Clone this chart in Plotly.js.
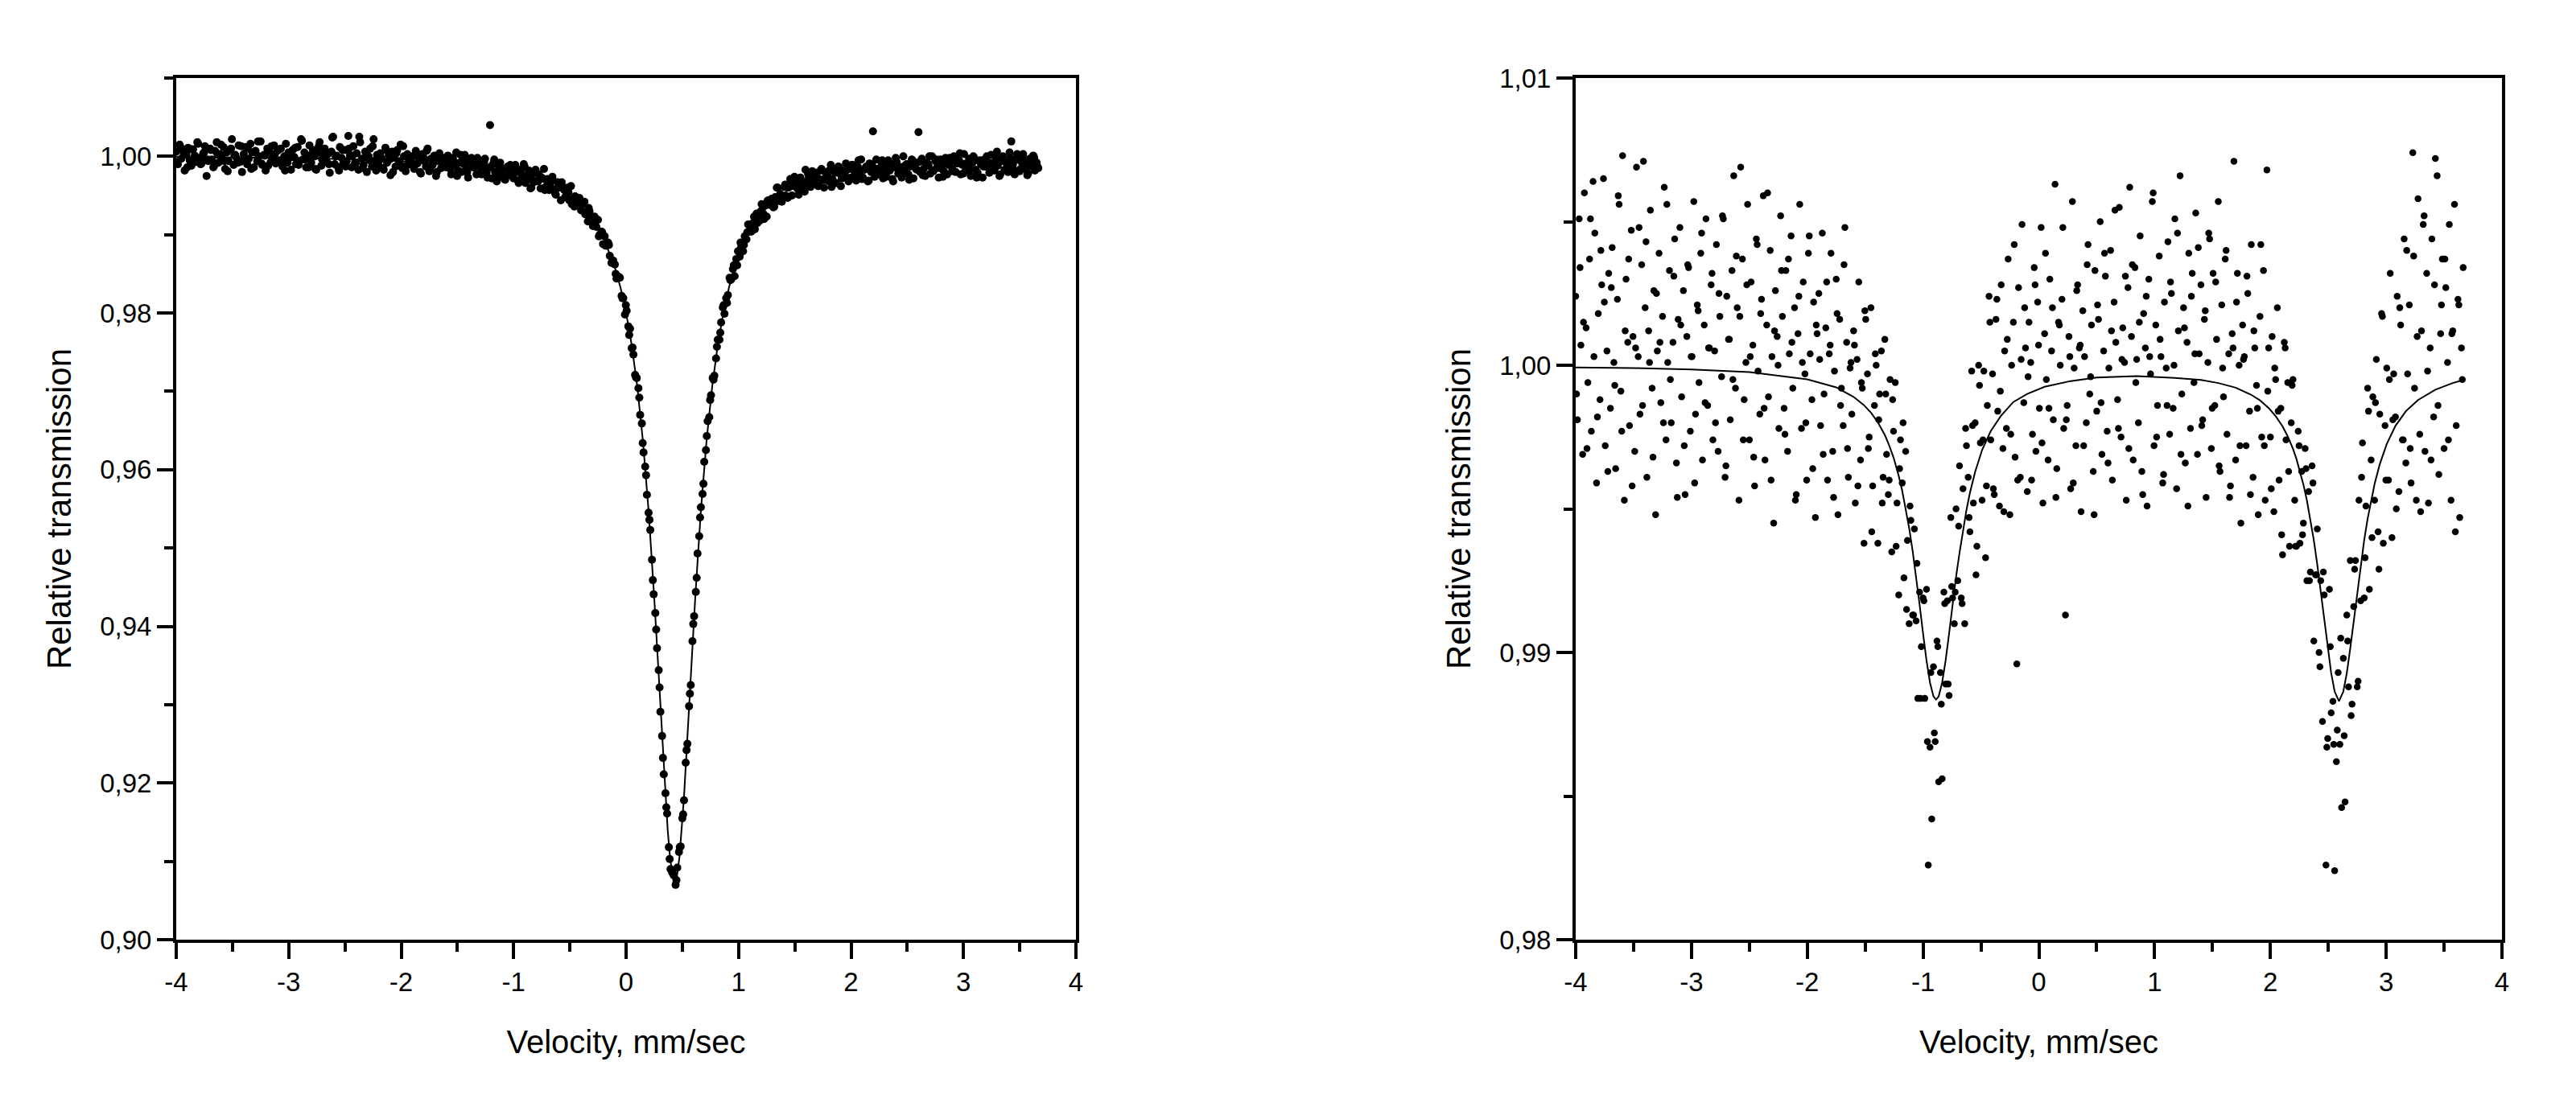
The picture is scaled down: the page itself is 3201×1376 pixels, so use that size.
<!DOCTYPE html>
<html>
<head>
<meta charset="utf-8">
<script src="https://cdn.plot.ly/plotly-3.0.1.min.js"></script>
<style>
html,body{margin:0;padding:0;background:#fff;}
#chart{width:3201px;height:1376px;}
</style>
</head>
<body>
<div id="chart"></div>
<script>
// Velocity channels (mm/sec), shared by both spectra
const velocity = [
-4,-3.985,-3.97,-3.955,-3.94,-3.925,-3.91,-3.895,-3.88,-3.865,-3.85,-3.835,-3.82,-3.805,-3.79,-3.775,-3.76,-3.745,-3.73,-3.715,
-3.7,-3.685,-3.67,-3.655,-3.64,-3.625,-3.61,-3.595,-3.58,-3.565,-3.55,-3.535,-3.52,-3.505,-3.49,-3.475,-3.46,-3.445,-3.43,-3.415,
-3.4,-3.385,-3.37,-3.355,-3.34,-3.325,-3.31,-3.295,-3.28,-3.265,-3.25,-3.235,-3.22,-3.205,-3.19,-3.175,-3.16,-3.145,-3.13,-3.115,
-3.1,-3.085,-3.07,-3.055,-3.04,-3.025,-3.01,-2.995,-2.98,-2.965,-2.95,-2.935,-2.92,-2.905,-2.89,-2.875,-2.86,-2.845,-2.83,-2.815,
-2.8,-2.785,-2.77,-2.755,-2.74,-2.725,-2.71,-2.695,-2.68,-2.665,-2.65,-2.635,-2.62,-2.605,-2.59,-2.575,-2.56,-2.545,-2.53,-2.515,
-2.5,-2.485,-2.47,-2.455,-2.44,-2.425,-2.41,-2.395,-2.38,-2.365,-2.35,-2.335,-2.32,-2.305,-2.29,-2.275,-2.26,-2.245,-2.23,-2.215,
-2.2,-2.185,-2.17,-2.155,-2.14,-2.125,-2.11,-2.095,-2.08,-2.065,-2.05,-2.035,-2.02,-2.005,-1.99,-1.975,-1.96,-1.945,-1.93,-1.915,
-1.9,-1.885,-1.87,-1.855,-1.84,-1.825,-1.81,-1.795,-1.78,-1.765,-1.75,-1.735,-1.72,-1.705,-1.69,-1.675,-1.66,-1.645,-1.63,-1.615,
-1.6,-1.585,-1.57,-1.555,-1.54,-1.525,-1.51,-1.495,-1.48,-1.465,-1.45,-1.435,-1.42,-1.405,-1.39,-1.375,-1.36,-1.345,-1.33,-1.315,
-1.3,-1.285,-1.27,-1.255,-1.24,-1.225,-1.21,-1.195,-1.18,-1.165,-1.15,-1.135,-1.12,-1.105,-1.09,-1.075,-1.06,-1.045,-1.03,-1.015,
-1,-0.985,-0.97,-0.955,-0.94,-0.925,-0.91,-0.895,-0.88,-0.865,-0.85,-0.835,-0.82,-0.805,-0.79,-0.775,-0.76,-0.745,-0.73,-0.715,
-0.7,-0.685,-0.67,-0.655,-0.64,-0.625,-0.61,-0.595,-0.58,-0.565,-0.55,-0.535,-0.52,-0.505,-0.49,-0.475,-0.46,-0.445,-0.43,-0.415,
-0.4,-0.385,-0.37,-0.355,-0.34,-0.325,-0.31,-0.295,-0.28,-0.265,-0.25,-0.235,-0.22,-0.205,-0.19,-0.175,-0.16,-0.145,-0.13,-0.115,
-0.1,-0.085,-0.07,-0.055,-0.04,-0.025,-0.01,0.005,0.02,0.035,0.05,0.065,0.08,0.095,0.11,0.125,0.14,0.155,0.17,0.185,
0.2,0.215,0.23,0.245,0.26,0.275,0.29,0.305,0.32,0.335,0.35,0.365,0.38,0.395,0.41,0.425,0.44,0.455,0.47,0.485,
0.5,0.515,0.53,0.545,0.56,0.575,0.59,0.605,0.62,0.635,0.65,0.665,0.68,0.695,0.71,0.725,0.74,0.755,0.77,0.785,
0.8,0.815,0.83,0.845,0.86,0.875,0.89,0.905,0.92,0.935,0.95,0.965,0.98,0.995,1.01,1.025,1.04,1.055,1.07,1.085,
1.1,1.115,1.13,1.145,1.16,1.175,1.19,1.205,1.22,1.235,1.25,1.265,1.28,1.295,1.31,1.325,1.34,1.355,1.37,1.385,
1.4,1.415,1.43,1.445,1.46,1.475,1.49,1.505,1.52,1.535,1.55,1.565,1.58,1.595,1.61,1.625,1.64,1.655,1.67,1.685,
1.7,1.715,1.73,1.745,1.76,1.775,1.79,1.805,1.82,1.835,1.85,1.865,1.88,1.895,1.91,1.925,1.94,1.955,1.97,1.985,
2,2.015,2.03,2.045,2.06,2.075,2.09,2.105,2.12,2.135,2.15,2.165,2.18,2.195,2.21,2.225,2.24,2.255,2.27,2.285,
2.3,2.315,2.33,2.345,2.36,2.375,2.39,2.405,2.42,2.435,2.45,2.465,2.48,2.495,2.51,2.525,2.54,2.555,2.57,2.585,
2.6,2.615,2.63,2.645,2.66,2.675,2.69,2.705,2.72,2.735,2.75,2.765,2.78,2.795,2.81,2.825,2.84,2.855,2.87,2.885,
2.9,2.915,2.93,2.945,2.96,2.975,2.99,3.005,3.02,3.035,3.05,3.065,3.08,3.095,3.11,3.125,3.14,3.155,3.17,3.185,
3.2,3.215,3.23,3.245,3.26,3.275,3.29,3.305,3.32,3.335,3.35,3.365,3.38,3.395,3.41,3.425,3.44,3.455,3.47,3.485,
3.5,3.515,3.53,3.545,3.56,3.575,3.59,3.605,3.62,3.635,3.65,3.665
];

// Left spectrum: measured relative transmission at the channels above
const leftTransmission = [
1.0006,0.9990,1.0015,0.9997,1.0008,0.9982,1.0002,1.0011,0.9995,0.9988,1.0009,1.0001,0.9993,1.0016,0.9998,0.9991,1.0004,1.0013,0.9975,0.9994,
1.0010,0.9996,0.9986,1.0007,1.0018,0.9992,1.0003,0.9999,1.0012,0.9984,1.0005,0.9994,1.0009,1.0022,0.9989,1.0002,0.9997,1.0014,0.9993,0.9980,
1.0003,1.0012,0.9990,0.9997,1.0016,1.0005,0.9986,1.0007,0.9994,1.0000,1.0019,0.9989,1.0002,0.9982,1.0010,1.0006,0.9993,0.9998,1.0014,0.9991,
1.0007,0.9995,1.0010,0.9987,1.0000,1.0016,0.9992,1.0003,0.9983,1.0008,0.9999,0.9990,1.0012,0.9994,1.0022,0.9996,1.0005,0.9986,1.0001,1.0014,
0.9992,1.0008,1.0000,0.9983,1.0005,1.0018,0.9988,0.9999,1.0010,0.9994,1.0003,0.9979,1.0006,1.0025,0.9990,1.0001,0.9986,1.0012,0.9998,0.9991,
1.0008,0.9994,1.0026,1.0001,0.9986,1.0013,0.9992,1.0004,0.9983,1.0018,0.9997,0.9989,1.0006,0.9980,1.0000,1.0010,0.9987,1.0022,0.9995,1.0002,
0.9989,1.0004,0.9997,0.9983,1.0011,0.9992,1.0002,0.9976,1.0006,0.9999,0.9987,1.0008,0.9994,1.0015,0.9985,1.0000,0.9981,1.0003,0.9996,0.9990,
1.0000,0.9984,1.0007,0.9991,0.9997,0.9978,1.0003,0.9994,0.9987,1.0010,0.9981,0.9997,0.9989,1.0001,0.9975,0.9994,1.0004,0.9985,0.9991,0.9998,
0.9986,1.0001,0.9993,0.9977,0.9998,0.9989,1.0005,0.9982,0.9992,0.9980,0.9996,1.0002,0.9983,0.9973,0.9993,0.9998,0.9986,0.9996,0.9977,0.9989,
0.9991,0.9977,0.9987,0.9997,0.9979,0.9985,1.0040,0.9972,0.9991,0.9980,0.9968,0.9988,0.9992,0.9975,0.9984,0.9970,0.9985,0.9978,0.9989,0.9975,
0.9972,0.9989,0.9980,0.9966,0.9983,0.9974,0.9990,0.9966,0.9975,0.9982,0.9959,0.9977,0.9967,0.9983,0.9969,0.9977,0.9959,0.9972,0.9984,0.9961,
0.9971,0.9957,0.9967,0.9974,0.9958,0.9951,0.9967,0.9960,0.9944,0.9961,0.9957,0.9948,0.9960,0.9944,0.9962,0.9944,0.9936,0.9947,0.9940,0.9947,
0.9931,0.9939,0.9942,0.9927,0.9917,0.9930,0.9923,0.9911,0.9923,0.9910,0.9919,0.9900,0.9904,0.9888,0.9898,0.9886,0.9890,0.9873,0.9864,0.9867,
0.9862,0.9844,0.9846,0.9845,0.9822,0.9819,0.9798,0.9803,0.9783,0.9780,0.9755,0.9747,0.9721,0.9717,0.9704,0.9670,0.9659,0.9622,0.9604,0.9568,
0.9545,0.9523,0.9485,0.9441,0.9417,0.9372,0.9344,0.9291,0.9260,0.9211,0.9187,0.9161,0.9118,0.9090,0.9086,0.9082,0.9070,0.9092,0.9112,0.9119,
0.9155,0.9178,0.9226,0.9250,0.9298,0.9325,0.9381,0.9413,0.9444,0.9493,0.9515,0.9552,0.9569,0.9610,0.9625,0.9662,0.9667,0.9695,0.9717,0.9720,
0.9742,0.9766,0.9766,0.9788,0.9807,0.9799,0.9819,0.9823,0.9845,0.9843,0.9856,0.9847,0.9869,0.9879,0.9872,0.9885,0.9879,0.9898,0.9894,0.9913,
0.9911,0.9904,0.9915,0.9907,0.9927,0.9923,0.9918,0.9939,0.9927,0.9937,0.9923,0.9944,0.9938,0.9946,0.9935,0.9948,0.9960,0.9943,0.9952,0.9942,
0.9949,0.9964,0.9949,0.9960,0.9971,0.9950,0.9962,0.9968,0.9960,0.9951,0.9973,0.9968,0.9961,0.9983,0.9968,0.9974,0.9961,0.9981,0.9968,0.9979,
0.9973,0.9963,0.9982,0.9970,0.9960,0.9979,0.9975,0.9968,0.9989,0.9971,0.9984,0.9966,0.9979,0.9986,0.9962,0.9982,0.9977,0.9991,0.9972,0.9984,
0.9973,0.9989,0.9981,0.9969,0.9987,0.9978,0.9996,0.9973,0.9983,0.9987,0.9968,0.9991,0.9980,1.0032,0.9974,0.9996,0.9984,0.9979,0.9992,0.9972,
0.9987,0.9974,0.9995,0.9982,0.9990,0.9968,0.9986,0.9993,0.9978,0.9985,0.9973,1.0000,0.9980,0.9990,0.9977,0.9987,0.9996,0.9972,0.9990,0.9983,
1.0031,0.9980,0.9997,0.9984,0.9975,0.9992,0.9988,0.9978,1.0000,0.9982,0.9994,0.9986,0.9973,0.9996,0.9990,0.9981,0.9998,0.9977,0.9989,0.9995,
0.9984,1.0000,0.9980,0.9991,0.9995,0.9977,0.9989,1.0003,0.9982,0.9986,0.9997,0.9975,0.9992,0.9998,0.9983,0.9979,0.9994,0.9990,0.9973,0.9996,
0.9995,0.9986,0.9979,1.0002,0.9991,0.9982,0.9998,0.9988,0.9975,0.9994,1.0000,0.9983,0.9992,0.9980,1.0005,1.0019,0.9990,0.9977,0.9996,0.9999,
0.9981,0.9993,1.0003,0.9984,0.9990,0.9978,0.9997,0.9987,1.0001,0.9982,0.9992,0.9985
];

// Right spectrum: measured relative transmission at the channels above
const rightTransmission = [
1.0024,0.9981,1.0051,1.0007,0.9969,1.0060,1.0013,0.9994,1.0037,0.9977,1.0064,1.0046,0.9959,1.0018,0.9988,1.0028,1.0065,0.9972,1.0005,1.0032,
0.9985,1.0041,1.0001,0.9964,1.0023,1.0056,0.9991,1.0073,0.9953,1.0030,1.0008,0.9979,1.0047,1.0010,0.9970,1.0069,1.0003,0.9983,1.0035,1.0071,
1.0020,0.9961,1.0012,1.0054,0.9992,1.0026,0.9948,1.0005,1.0039,0.9987,1.0017,1.0062,0.9974,1.0001,1.0033,0.9980,1.0008,1.0044,0.9966,1.0016,
1.0048,0.9989,1.0026,0.9955,1.0010,1.0034,0.9977,1.0003,1.0057,0.9983,1.0021,0.9994,1.0039,0.9967,1.0014,1.0051,0.9986,1.0006,1.0028,0.9974,
1.0005,1.0042,0.9970,1.0017,0.9996,1.0051,0.9961,1.0024,1.0009,0.9981,1.0033,1.0066,0.9992,1.0020,0.9953,1.0069,1.0037,0.9988,1.0001,1.0056,
0.9974,1.0029,1.0007,0.9958,1.0044,0.9998,0.9983,1.0023,1.0059,0.9967,1.0014,0.9989,1.0040,1.0003,0.9945,1.0026,1.0010,0.9978,1.0052,1.0017,
0.9985,1.0033,0.9970,1.0004,1.0045,0.9992,1.0020,0.9955,1.0011,1.0056,0.9978,1.0029,0.9997,0.9960,1.0039,1.0004,0.9988,1.0022,0.9947,1.0011,
1.0025,0.9979,1.0046,0.9990,1.0013,0.9960,1.0004,1.0039,0.9970,0.9998,1.0030,0.9948,1.0016,0.9992,0.9979,1.0048,1.0008,0.9961,0.9999,0.9983,
1.0012,0.9952,1.0002,1.0029,0.9967,0.9992,0.9938,1.0016,0.9997,0.9975,1.0020,0.9958,0.9986,1.0000,0.9938,0.9990,1.0005,0.9961,1.0009,0.9969,
0.9955,0.9995,0.9935,0.9977,0.9994,0.9952,0.9920,0.9974,0.9959,0.9926,0.9970,0.9939,0.9910,0.9946,0.9913,0.9943,0.9911,0.9884,0.9921,0.9902,
0.9919,0.9884,0.9922,0.9826,0.9867,0.9842,0.9895,0.9869,0.9904,0.9855,0.9893,0.9856,0.9921,0.9889,0.9918,0.9885,0.9947,0.9919,0.9910,0.9950,
0.9925,0.9965,0.9919,0.9957,0.9910,0.9972,0.9961,0.9942,0.9998,0.9952,0.9980,0.9937,1.0000,0.9973,0.9953,0.9998,0.9933,0.9986,1.0024,0.9974,
0.9997,0.9955,1.0016,0.9984,0.9951,1.0028,0.9971,1.0005,0.9978,1.0037,0.9948,1.0000,1.0015,0.9968,0.9896,1.0027,0.9961,1.0049,0.9987,1.0006,
0.9956,1.0015,1.0001,0.9976,1.0034,0.9970,1.0022,0.9985,1.0048,0.9952,1.0011,0.9995,0.9967,1.0030,1.0005,0.9981,1.0063,0.9964,1.0015,1.0000,
1.0023,0.9978,0.9913,0.9986,1.0010,0.9957,1.0057,0.9999,0.9972,1.0028,1.0006,0.9949,1.0019,1.0003,0.9980,1.0042,0.9990,1.0014,0.9963,1.0033,
0.9984,1.0016,1.0050,0.9969,1.0005,1.0031,0.9977,0.9999,1.0040,0.9960,1.0022,1.0008,0.9988,1.0055,0.9975,1.0013,1.0001,0.9953,1.0027,1.0062,
1.0010,0.9967,1.0034,1.0002,0.9980,1.0045,0.9963,1.0018,1.0006,0.9951,1.0030,0.9997,1.0057,0.9972,1.0014,0.9986,1.0038,1.0003,0.9959,1.0022,
0.9999,1.0043,0.9976,1.0025,0.9985,1.0051,0.9957,1.0012,1.0066,0.9990,1.0020,0.9966,1.0008,1.0039,0.9978,1.0032,0.9994,1.0053,0.9969,1.0004,
1.0028,0.9981,1.0016,0.9954,1.0001,1.0044,0.9971,1.0032,0.9986,1.0009,1.0057,0.9963,1.0021,0.9989,1.0037,0.9976,1.0004,0.9958,1.0011,1.0071,
0.9967,1.0032,1.0000,0.9945,1.0014,1.0003,0.9972,1.0025,0.9984,1.0042,0.9961,1.0006,0.9993,0.9948,1.0017,0.9975,1.0033,0.9953,1.0068,1.0006,
0.9975,1.0010,0.9949,0.9995,1.0020,0.9960,0.9985,0.9934,1.0008,0.9974,0.9994,0.9937,0.9980,0.9995,0.9953,0.9937,0.9977,0.9938,0.9963,0.9945,
0.9971,0.9925,0.9956,0.9928,0.9965,0.9904,0.9927,0.9943,0.9900,0.9925,0.9876,0.9920,0.9826,0.9870,0.9922,0.9879,0.9883,0.9824,0.9862,0.9893,
0.9868,0.9846,0.9898,0.9848,0.9913,0.9888,0.9932,0.9882,0.9916,0.9932,0.9888,0.9953,0.9918,0.9973,0.9919,0.9951,0.9992,0.9922,0.9967,0.9989,
0.9953,1.0002,0.9942,0.9983,1.0018,0.9938,0.9979,0.9999,0.9960,1.0032,0.9940,0.9997,0.9982,1.0024,0.9956,1.0014,0.9974,1.0044,0.9966,0.9997,
1.0021,0.9959,1.0074,0.9992,0.9953,1.0058,0.9976,1.0012,1.0049,0.9970,1.0032,0.9952,1.0006,1.0044,0.9982,1.0072,1.0066,0.9962,1.0011,1.0037,
0.9971,1.0027,1.0001,1.0049,0.9953,1.0012,1.0056,0.9979,1.0023,0.9947,1.0006,1.0034
];

// Additional in-between channels (mm/sec)
const velocityMid = [
-3.9925,-3.9625,-3.9325,-3.9025,-3.8725,-3.8425,-3.8125,-3.7825,-3.7525,-3.7225,
-3.6925,-3.6625,-3.6325,-3.6025,-3.5725,-3.5425,-3.5125,-3.4825,-3.4525,-3.4225,
-3.3925,-3.3625,-3.3325,-3.3025,-3.2725,-3.2425,-3.2125,-3.1825,-3.1525,-3.1225,
-3.0925,-3.0625,-3.0325,-3.0025,-2.9725,-2.9425,-2.9125,-2.8825,-2.8525,-2.8225,
-2.7925,-2.7625,-2.7325,-2.7025,-2.6725,-2.6425,-2.6125,-2.5825,-2.5525,-2.5225,
-2.4925,-2.4625,-2.4325,-2.4025,-2.3725,-2.3425,-2.3125,-2.2825,-2.2525,-2.2225,
-2.1925,-2.1625,-2.1325,-2.1025,-2.0725,-2.0425,-2.0125,-1.9825,-1.9525,-1.9225,
-1.8925,-1.8625,-1.8325,-1.8025,-1.7725,-1.7425,-1.7125,-1.6825,-1.6525,-1.6225,
-1.5925,-1.5625,-1.5325,-1.5025,-1.4725,-1.4425,-1.4125,-1.3825,-1.3525,-1.3225,
-1.2925,-1.2625,-1.2325,-1.2025,-1.1725,-1.1425,-1.1125,-1.0825,-1.0525,-1.0225,
-0.9925,-0.9625,-0.9325,-0.9025,-0.8725,-0.8425,-0.8125,-0.7825,-0.7525,-0.7225,
-0.6925,-0.6625,-0.6325,-0.6025,-0.5725,-0.5425,-0.5125,-0.4825,-0.4525,-0.4225,
-0.3925,-0.3625,-0.3325,-0.3025,-0.2725,-0.2425,-0.2125,-0.1825,-0.1525,-0.1225,
-0.0925,-0.0625,-0.0325,-0.0025,0.0275,0.0575,0.0875,0.1175,0.1475,0.1775,
0.2075,0.2375,0.2675,0.2975,0.3275,0.3575,0.3875,0.4175,0.4475,0.4775,
0.5075,0.5375,0.5675,0.5975,0.6275,0.6575,0.6875,0.7175,0.7475,0.7775,
0.8075,0.8375,0.8675,0.8975,0.9275,0.9575,0.9875,1.0175,1.0475,1.0775,
1.1075,1.1375,1.1675,1.1975,1.2275,1.2575,1.2875,1.3175,1.3475,1.3775,
1.4075,1.4375,1.4675,1.4975,1.5275,1.5575,1.5875,1.6175,1.6475,1.6775,
1.7075,1.7375,1.7675,1.7975,1.8275,1.8575,1.8875,1.9175,1.9475,1.9775,
2.0075,2.0375,2.0675,2.0975,2.1275,2.1575,2.1875,2.2175,2.2475,2.2775,
2.3075,2.3375,2.3675,2.3975,2.4275,2.4575,2.4875,2.5175,2.5475,2.5775,
2.6075,2.6375,2.6675,2.6975,2.7275,2.7575,2.7875,2.8175,2.8475,2.8775,
2.9075,2.9375,2.9675,2.9975,3.0275,3.0575,3.0875,3.1175,3.1475,3.1775,
3.2075,3.2375,3.2675,3.2975,3.3275,3.3575,3.3875,3.4175,3.4475,3.4775,
3.5075,3.5375,3.5675,3.5975,3.6275,3.6575
];

const leftTransmissionMid = [
0.9993,1.0012,1.0003,0.9986,1.0009,0.9998,1.0018,0.9990,1.0005,0.9996,
1.0008,0.9988,1.0002,1.0015,0.9994,0.9981,1.0010,1.0001,0.9992,1.0013,
0.9996,1.0010,0.9984,1.0005,1.0019,0.9991,1.0001,0.9988,1.0013,1.0003,
1.0008,0.9993,0.9982,1.0005,0.9999,1.0011,0.9989,1.0020,0.9996,0.9986,
1.0001,0.9984,1.0013,0.9996,1.0006,0.9990,1.0024,1.0000,0.9982,1.0008,
0.9987,1.0010,1.0001,0.9992,1.0025,0.9985,1.0004,0.9995,1.0013,0.9982,
1.0001,0.9985,1.0008,0.9996,0.9980,1.0004,0.9991,1.0013,0.9988,0.9998,
0.9991,1.0004,0.9980,0.9999,1.0007,0.9984,0.9994,0.9980,0.9999,0.9987,
0.9999,0.9984,0.9993,0.9975,1.0002,0.9990,0.9980,0.9996,0.9986,0.9998,
0.9981,0.9993,0.9973,0.9987,0.9996,0.9976,0.9983,0.9971,0.9987,0.9978,
0.9985,0.9969,0.9979,0.9987,0.9970,0.9960,0.9980,0.9968,0.9973,0.9957,
0.9962,0.9971,0.9953,0.9961,0.9967,0.9948,0.9954,0.9939,0.9949,0.9941,
0.9939,0.9926,0.9934,0.9918,0.9919,0.9898,0.9903,0.9886,0.9887,0.9867,
0.9850,0.9846,0.9819,0.9810,0.9772,0.9756,0.9718,0.9692,0.9634,0.9593,
0.9536,0.9459,0.9396,0.9322,0.9232,0.9169,0.9103,0.9084,0.9076,0.9118,
0.9160,0.9242,0.9314,0.9403,0.9462,0.9539,0.9582,0.9643,0.9689,0.9715,
0.9757,0.9775,0.9810,0.9813,0.9842,0.9861,0.9861,0.9890,0.9887,0.9903,
0.9904,0.9923,0.9915,0.9930,0.9920,0.9943,0.9941,0.9936,0.9960,0.9946,
0.9961,0.9947,0.9963,0.9974,0.9958,0.9966,0.9955,0.9978,0.9968,0.9977,
0.9962,0.9984,0.9970,0.9981,0.9961,0.9980,0.9987,0.9972,0.9980,0.9968,
0.9989,0.9975,0.9995,0.9971,0.9985,0.9969,0.9989,0.9984,0.9977,0.9995,
0.9979,0.9991,0.9971,0.9998,0.9986,0.9977,0.9989,0.9970,0.9995,0.9984,
0.9993,0.9976,0.9990,1.0000,0.9981,0.9996,0.9985,0.9974,0.9991,0.9998,
0.9981,0.9992,1.0004,0.9978,0.9990,0.9984,1.0000,0.9973,0.9995,0.9987,
1.0000,0.9981,0.9990,1.0006,0.9977,0.9994,0.9986,0.9998,0.9983,1.0003,
0.9984,0.9996,0.9976,0.9992,0.9999,0.9987
];

const rightTransmissionMid = [
0.9990,1.0034,1.0015,0.9971,1.0051,1.0003,0.9982,1.0040,1.0022,0.9963,
1.0027,0.9993,1.0059,0.9977,1.0012,1.0037,0.9958,1.0006,1.0048,0.9986,
1.0043,1.0001,0.9968,1.0025,1.0008,0.9980,1.0056,0.9995,1.0031,0.9954,
1.0014,0.9972,1.0035,1.0003,0.9959,1.0019,1.0046,0.9987,1.0006,1.0032,
0.9980,1.0025,1.0052,0.9965,1.0009,0.9995,1.0038,1.0017,0.9974,1.0028,
1.0003,0.9968,1.0042,1.0018,0.9985,1.0060,0.9960,1.0012,1.0000,1.0033,
0.9976,1.0037,1.0008,0.9953,1.0024,1.0001,0.9980,1.0045,0.9964,1.0014,
1.0002,0.9969,1.0029,1.0007,0.9954,1.0018,0.9986,1.0035,0.9971,1.0001,
1.0007,0.9958,0.9994,1.0019,0.9971,0.9942,1.0004,0.9981,0.9952,0.9990,
0.9960,0.9988,0.9937,0.9964,0.9980,0.9915,0.9951,0.9913,0.9931,0.9884,
0.9918,0.9869,0.9893,0.9872,0.9902,0.9882,0.9917,0.9889,0.9923,0.9921,
0.9944,0.9917,0.9978,0.9947,0.9979,0.9927,0.9993,0.9974,0.9958,1.0015,
0.9957,1.0023,0.9991,0.9949,1.0009,0.9976,1.0042,0.9960,1.0002,1.0020,
0.9996,0.9960,1.0028,1.0007,0.9973,1.0039,0.9985,1.0020,0.9954,1.0014,
1.0048,0.9981,1.0003,0.9959,1.0026,1.0007,0.9972,1.0035,0.9996,0.9948,
1.0021,0.9987,1.0039,0.9966,1.0012,1.0054,0.9978,1.0002,1.0031,0.9971,
1.0035,0.9994,1.0015,0.9955,1.0024,1.0003,1.0060,0.9975,1.0009,0.9962,
0.9986,1.0029,1.0000,1.0046,0.9969,1.0013,0.9951,1.0024,1.0004,1.0041,
0.9979,1.0019,1.0046,0.9985,1.0029,0.9965,0.9999,1.0040,0.9954,1.0006,
1.0022,0.9972,1.0002,1.0031,0.9955,1.0012,0.9985,1.0042,0.9972,0.9991,
0.9957,0.9999,0.9984,0.9941,1.0006,0.9963,0.9993,0.9937,0.9972,0.9941,
0.9964,0.9925,0.9959,0.9927,0.9895,0.9928,0.9867,0.9902,0.9868,0.9873,
0.9905,0.9871,0.9904,0.9878,0.9929,0.9890,0.9961,0.9933,0.9984,0.9940,
0.9987,0.9929,1.0017,0.9960,0.9995,0.9981,0.9950,1.0020,0.9974,1.0040,
0.9971,1.0038,1.0010,0.9949,1.0052,0.9998,0.9967,1.0028,0.9986,1.0021,
1.0037,0.9974,1.0011,0.9942,1.0021,0.9995
];

// Fitted curves
const leftFitVelocity = [-4,-3.5,-3,-2.5,-2,-1.6,-1.3,-1,-0.8,-0.6,-0.5,-0.4,-0.3,-0.2,-0.1,-0.05,0,0.05,0.1,0.15,0.2,0.25,0.3,0.35,0.37,0.39,0.41,0.4325,0.455,0.475,0.495,0.515,0.565,0.615,0.665,0.715,0.765,0.815,0.865,0.915,0.965,1.065,1.165,1.265,1.365,1.465,1.665,1.865,2.165,2.465,2.865,3.365,3.665];
const leftFitTransmission = [0.99996,0.99989,0.99979,0.99964,0.99939,0.99905,0.99862,0.99791,0.99713,0.99589,0.99497,0.99373,0.99201,0.98954,0.98584,0.98328,0.98004,0.9759,0.97055,0.96363,0.95476,0.9437,0.9309,0.91823,0.91398,0.91061,0.90839,0.9075,0.90839,0.91061,0.91398,0.91823,0.9309,0.9437,0.95476,0.96363,0.97055,0.9759,0.98004,0.98328,0.98584,0.98954,0.99201,0.99373,0.99497,0.99589,0.99713,0.99791,0.99862,0.99905,0.99939,0.99964,0.99974];

const rightFitVelocity = [-4,-3.5,-3,-2.5,-2,-1.75,-1.6,-1.51,-1.45,-1.39,-1.33,-1.3,-1.255,-1.21,-1.18,-1.15,-1.12,-1.09,-1.06,-1.03,-1,-0.97,-0.94,-0.91,-0.8875,-0.865,-0.835,-0.805,-0.775,-0.745,-0.715,-0.685,-0.655,-0.625,-0.595,-0.55,-0.49,-0.415,-0.325,-0.22,-0.1,0.05,0.275,0.5,0.845,1.175,1.4,1.55,1.7,1.835,1.91,1.985,2.045,2.105,2.15,2.195,2.225,2.255,2.285,2.315,2.345,2.375,2.405,2.435,2.465,2.495,2.525,2.555,2.5925,2.63,2.66,2.69,2.72,2.75,2.78,2.81,2.84,2.87,2.9,2.945,3.005,3.08,3.17,3.275,3.425,3.575,3.665];
const rightFitTransmission = [0.99992,0.9999,0.99985,0.99976,0.99951,0.99923,0.9989,0.99861,0.99835,0.99801,0.99757,0.99729,0.99679,0.99615,0.99563,0.99503,0.99433,0.99354,0.99264,0.99167,0.99066,0.98972,0.98895,0.98847,0.98836,0.98847,0.98895,0.98972,0.99066,0.99166,0.99263,0.99347,0.99426,0.99496,0.99556,0.99629,0.99705,0.99771,0.99825,0.99872,0.999,0.99925,0.99945,0.99957,0.99962,0.99956,0.99949,0.99938,0.99922,0.99897,0.99878,0.99851,0.99823,0.99787,0.99752,0.99709,0.99674,0.99633,0.99585,0.9953,0.99466,0.99391,0.99306,0.99212,0.99113,0.99015,0.98928,0.98864,0.9883,0.98864,0.98928,0.99015,0.99113,0.99212,0.99306,0.99391,0.99466,0.9953,0.99587,0.99656,0.99726,0.99789,0.9984,0.99879,0.99915,0.99938,0.99948];

// Tick labels and titles
const xTickVals = [-4,-3,-2,-1,0,1,2,3,4];
const xTickText = ['-4','-3','-2','-1','0','1','2','3','4'];
const leftYTickVals = [0.90,0.92,0.94,0.96,0.98,1.00];
const leftYTickText = ['0,90','0,92','0,94','0,96','0,98','1,00'];
const rightYTickVals = [0.98,0.99,1.00,1.01];
const rightYTickText = ['0,98','0,99','1,00','1,01'];
const xTitleText = 'Velocity, mm/sec';
const yTitleText = 'Relative transmission';

const FONT = 'Liberation Sans, Arial, Helvetica, sans-serif';
const W = 3201, H = 1376;

function baseAxis() {
  return {
    showline: true, linewidth: 4, linecolor: '#000', mirror: true,
    ticks: 'outside', ticklen: 20, tickwidth: 4, tickcolor: '#000',
    showgrid: false, zeroline: false, automargin: false, fixedrange: true,
    tickfont: {family: FONT, size: 33, color: '#000'}
  };
}
function xAxis(domain, anchor) {
  return Object.assign(baseAxis(), {
    domain: domain, anchor: anchor, range: [-4, 4],
    tickmode: 'array', tickvals: xTickVals, ticktext: xTickText,
    minor: {tickmode: 'linear', tick0: -4, dtick: 0.5, ticks: 'outside', ticklen: 11, tickwidth: 4, tickcolor: '#000', showgrid: false},
    title: {text: xTitleText, font: {family: FONT, size: 40, color: '#000'}, standoff: 44}
  });
}
function yAxis(domain, anchor, range, vals, text, minorDtick) {
  return Object.assign(baseAxis(), {
    domain: domain, anchor: anchor, range: range,
    tickmode: 'array', tickvals: vals, ticktext: text,
    minor: {tickmode: 'linear', tick0: range[0], dtick: minorDtick, ticks: 'outside', ticklen: 11, tickwidth: 4, tickcolor: '#000', showgrid: false},
    title: {text: yTitleText, font: {family: FONT, size: 42, color: '#000'}, standoff: 23}
  });
}

const yDomain = [(H - 1168) / H, (H - 97) / H];

function dots(x, y, xa, ya, size) {
  return {x: x, y: y, xaxis: xa, yaxis: ya, type: 'scatter', mode: 'markers',
          marker: {color: '#000', size: size}, hoverinfo: 'skip'};
}
function curve(x, y, xa, ya) {
  return {x: x, y: y, xaxis: xa, yaxis: ya, type: 'scatter', mode: 'lines',
          line: {color: '#000', width: 2}, hoverinfo: 'skip'};
}

const traces = [
  dots(velocity, leftTransmission, 'x', 'y', 10),
  dots(velocityMid, leftTransmissionMid, 'x', 'y', 10),
  curve(leftFitVelocity, leftFitTransmission, 'x', 'y'),
  dots(velocity, rightTransmission, 'x2', 'y2', 8.5),
  dots(velocityMid, rightTransmissionMid, 'x2', 'y2', 8.5),
  curve(rightFitVelocity, rightFitTransmission, 'x2', 'y2')
];

const layout = {
  width: W, height: H, autosize: false,
  margin: {l: 0, r: 0, t: 0, b: 0, pad: 0},
  paper_bgcolor: '#fff', plot_bgcolor: '#fff',
  showlegend: false,
  font: {family: FONT, color: '#000'},
  xaxis: xAxis([219 / W, 1337 / W], 'y'),
  yaxis: yAxis(yDomain, 'x', [0.90, 1.01], leftYTickVals, leftYTickText, 0.01),
  xaxis2: xAxis([1958 / W, 3109 / W], 'y2'),
  yaxis2: yAxis(yDomain, 'x2', [0.98, 1.01], rightYTickVals, rightYTickText, 0.005)
};

Plotly.newPlot('chart', traces, layout, {displayModeBar: false, staticPlot: true});
</script>
</body>
</html>
